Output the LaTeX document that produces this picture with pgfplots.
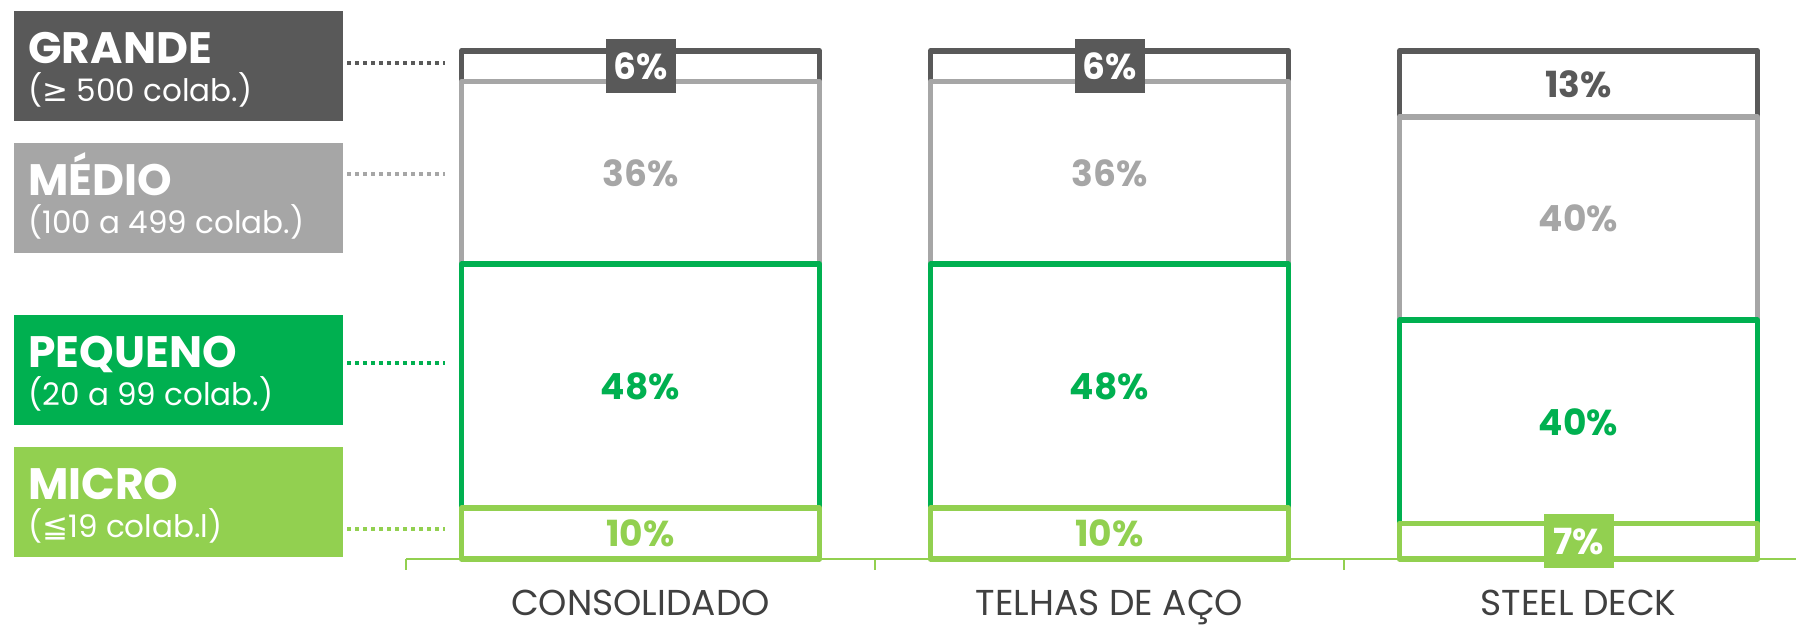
\documentclass[border=0pt]{standalone}
\usepackage{fontspec}
\setmainfont{Poppins}
\newfontfamily\symfont{DejaVu Sans}
\usepackage{pgfplots}
\pgfplotsset{compat=1.18}
\usepackage{pgfplotstable}
\definecolor{cgrande}{HTML}{595959}
\definecolor{cmedio}{HTML}{A6A6A6}
\definecolor{cpeq}{HTML}{00B050}
\definecolor{cmicro}{HTML}{92D050}
\definecolor{ctext}{HTML}{404040}

% segment values (bottom to top)
\pgfplotstableread{
x micro pequeno medio grande
0 10 48 36 6
1 10 48 36 6
2 7  40 40 13
}\shares

% label positions (segment centres)
\pgfplotstableread{
x y lab
0 97 6
1 97 6
}\lblGrandeBox
\pgfplotstableread{
x y lab
2 93.5 13
}\lblGrande
\pgfplotstableread{
x y lab
0 76 36
1 76 36
2 67 40
}\lblMedio
\pgfplotstableread{
x y lab
0 34 48
1 34 48
2 27 40
}\lblPeq
\pgfplotstableread{
x y lab
0 5 10
1 5 10
}\lblMicro
\pgfplotstableread{
x y lab
2 3.5 7
}\lblMicroBox

\pgfplotsset{
  common/.style={
    at={(203pt,33pt)}, anchor=south west,
    scale only axis, width=695pt, height=254pt,
    xmin=-0.5, xmax=2.4638, ymin=0, ymax=100,
    clip=false,
  },
  lbl/.style={only marks, mark=none, nodes near coords={\pgfplotspointmeta\%},
    point meta=explicit symbolic,
    every node near coord/.append style={anchor=center, font=\bfseries\fontsize{18}{18}\selectfont, inner sep=0pt}},
}

\begin{document}
\begin{tikzpicture}
\useasboundingbox (0,0) rectangle (898pt,312.5pt);

% left category boxes
\begin{scope}[every node/.style={anchor=base west, inner sep=0pt, text=white, align=left}]
\fill[cgrande] (7pt,252pt) rectangle (171.5pt,307pt);
\node at (14pt,280.5pt) {\bfseries\fontsize{22}{22}\selectfont GRANDE};
\node at (14pt,261.5pt) {\fontsize{15.5}{15.5}\selectfont ({\symfont ≥} 500 colab.)};
\fill[cmedio] (7pt,186pt) rectangle (171.5pt,241pt);
\node at (14pt,214.5pt) {\bfseries\fontsize{22}{22}\selectfont MÉDIO};
\node at (14pt,195.5pt) {\fontsize{15.5}{15.5}\selectfont (100 a 499 colab.)};
\fill[cpeq] (7pt,100pt) rectangle (171.5pt,155pt);
\node at (14pt,128.5pt) {\bfseries\fontsize{22}{22}\selectfont PEQUENO};
\node at (14pt,109.5pt) {\fontsize{15.5}{15.5}\selectfont (20 a 99 colab.)};
\fill[cmicro] (7pt,34pt) rectangle (171.5pt,89pt);
\node at (14pt,62.5pt) {\bfseries\fontsize{22}{22}\selectfont MICRO};
\node at (14pt,43.5pt) {\fontsize{15.5}{15.5}\selectfont ({\symfont ≦}19 colab.l)};
\end{scope}

% dotted leaders
\begin{scope}[line width=1.6pt, dash pattern=on 2.2pt off 1.8pt]
\draw[cgrande] (173.5pt,281pt) -- (222.5pt,281pt);
\draw[cmedio] (173.5pt,225.5pt) -- (222.5pt,225.5pt);
\draw[cpeq] (173.5pt,131pt) -- (222.5pt,131pt);
\draw[cmicro] (173.5pt,48pt) -- (222.5pt,48pt);
\end{scope}

\begin{axis}[common,
  ybar stacked, bar width=0.763,
  axis x line*=bottom, axis y line=none,
  x axis line style={-, draw=cmicro, line width=1.2pt},
  xtick={0,1,2},
  xticklabels={CONSOLIDADO, TELHAS DE AÇO, STEEL DECK},
  minor xtick={-0.5,0.5,1.5},
  major tick length=0pt, minor tick length=5.5pt,
  tick align=outside,
  minor x tick style={draw=cmicro, line width=1.2pt},
  xticklabel style={anchor=base, yshift=-28.5pt, text=ctext, font=\fontsize{18}{18}\selectfont},
  ytick=\empty,
]
\addplot[fill=white, draw=cmicro, line width=2.9pt, line join=round] table[x=x, y=micro] {\shares};
\addplot[fill=white, draw=cpeq, line width=2.9pt, line join=round] table[x=x, y=pequeno] {\shares};
\addplot[fill=white, draw=cmedio, line width=2.9pt, line join=round] table[x=x, y=medio] {\shares};
\addplot[fill=white, draw=cgrande, line width=2.9pt, line join=round] table[x=x, y=grande] {\shares};
\end{axis}

\begin{axis}[common, hide axis]
\addplot[lbl, every node near coord/.append style={fill=cgrande, text=white, minimum width=35pt, minimum height=27pt}]
  table[x=x, y=y, meta=lab] {\lblGrandeBox};
\addplot[lbl, every node near coord/.append style={text=cgrande}]
  table[x=x, y=y, meta=lab] {\lblGrande};
\addplot[lbl, every node near coord/.append style={text=cmedio}]
  table[x=x, y=y, meta=lab] {\lblMedio};
\addplot[lbl, every node near coord/.append style={text=cpeq}]
  table[x=x, y=y, meta=lab] {\lblPeq};
\addplot[lbl, every node near coord/.append style={text=cmicro}]
  table[x=x, y=y, meta=lab] {\lblMicro};
\addplot[lbl, every node near coord/.append style={fill=cmicro, text=white, minimum width=35pt, minimum height=27pt}]
  table[x=x, y=y, meta=lab] {\lblMicroBox};
\end{axis}
\end{tikzpicture}
\end{document}
